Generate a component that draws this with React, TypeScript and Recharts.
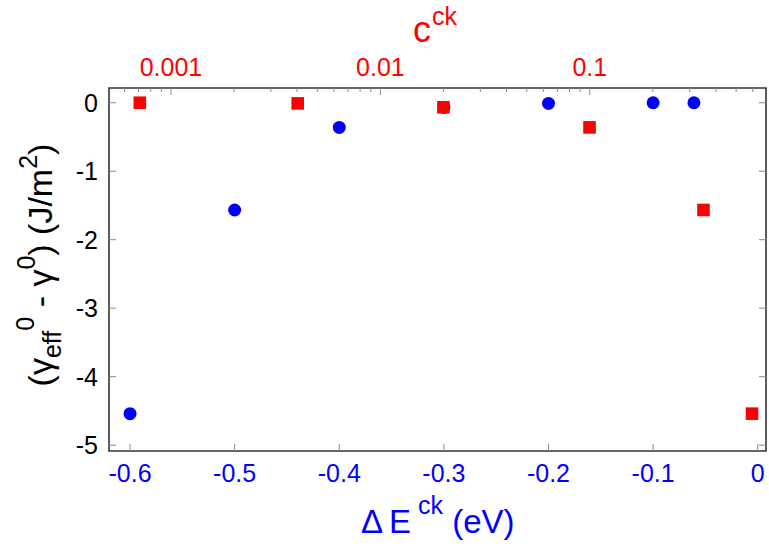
import React from 'react';
import { ScatterChart, Scatter, XAxis, YAxis, ReferenceArea } from 'recharts';

// blue circles: ΔE^ck (bottom axis) vs (γ_eff^0 - γ^0)
const DELTA_E = [-0.6, -0.5, -0.4, -0.3, -0.2, -0.1, -0.061];
const GAMMA_BLUE = [-4.54, -1.566, -0.36, -0.067, -0.01, 0, 0];

// red squares: c^ck (top log axis) vs (γ_eff^0 - γ^0)
const C_CK = [0.00071, 0.00403, 0.02, 0.0997, 0.349, 0.595];
const GAMMA_RED = [0, -0.01, -0.067, -0.36, -1.566, -4.54];

const BOTTOM_TICKS = [-0.6, -0.5, -0.4, -0.3, -0.2, -0.1, 0];
const Y_TICKS = [0, -1, -2, -3, -4, -5];
const TOP_MAJOR = [0.001, 0.01, 0.1];
const TOP_LABELS = ['0.001', '0.01', '0.1'];
const TOP_TICKS = [
  0.0006, 0.0007, 0.0008, 0.0009, 0.001,
  0.002, 0.003, 0.004, 0.005, 0.006, 0.007, 0.008, 0.009, 0.01,
  0.02, 0.03, 0.04, 0.05, 0.06, 0.07, 0.08, 0.09, 0.1,
  0.2, 0.3, 0.4, 0.5, 0.6,
];

const X_MIN = -0.6201;
const X_MAX = 0.0079;
const C_MIN = 0.000506;
const C_MAX = 0.694;
const Y_MIN = -5.085;
const Y_MAX = 0.215;

// plot frame in page pixels
const PL = 109;
const PR = 766;
const PT = 88;
const PB = 451;

const FONT = '"Liberation Sans", Arial, sans-serif';
const BLUE = '#0000ff';
const RED = '#ff0000';
const TICK_COLOR = '#8a8a8a';

const blueData = DELTA_E.map((e, i) => ({ e, g: GAMMA_BLUE[i] }));
const redData = C_CK.map((c, i) => ({ c, g: GAMMA_RED[i] }));

const BottomTick = (props: any) => {
  const { x, payload } = props;
  return (
    <g>
      <line x1={x} x2={x} y1={PB} y2={PB - 7} stroke={TICK_COLOR} strokeWidth={1} />
      <text x={x} y={482} textAnchor="middle" fontSize={25} fontFamily={FONT} fill={BLUE}>
        {payload.value}
      </text>
    </g>
  );
};

const TopTick = (props: any) => {
  const { x, payload } = props;
  const idx = TOP_MAJOR.findIndex((m) => Math.abs(m - payload.value) < 1e-9);
  const major = idx >= 0;
  return (
    <g>
      <line x1={x} x2={x} y1={PT} y2={PT + (major ? 7 : 4)} stroke={TICK_COLOR} strokeWidth={1} />
      {major && (
        <text x={x} y={76} textAnchor="middle" fontSize={25} fontFamily={FONT} fill={RED}>
          {TOP_LABELS[idx]}
        </text>
      )}
    </g>
  );
};

const LeftTick = (props: any) => {
  const { y, payload } = props;
  return (
    <g>
      <line x1={PL} x2={PL + 7} y1={y} y2={y} stroke={TICK_COLOR} strokeWidth={1} />
      <line x1={PR} x2={PR - 7} y1={y} y2={y} stroke={TICK_COLOR} strokeWidth={1} />
      <text x={98} y={y + 9} textAnchor="end" fontSize={25} fontFamily={FONT} fill="#000">
        {payload.value}
      </text>
    </g>
  );
};

const BlueDot = (props: any) => <circle cx={props.cx} cy={props.cy} r={6.5} fill={BLUE} />;
const RedSquare = (props: any) => (
  <rect x={props.cx - 6.3} y={props.cy - 6.3} width={12.6} height={12.6} fill={RED} />
);

export default function App() {
  return (
    <div style={{ position: 'absolute', left: 0, top: 0, width: 769, height: 548, background: '#fff' }}>
      <ScatterChart width={769} height={548} margin={{ top: PT - 30, right: 769 - PR, bottom: 548 - PB - 30, left: PL - 60 }}>
        <XAxis
          xAxisId="bottom"
          dataKey="e"
          type="number"
          domain={[X_MIN, X_MAX]}
          ticks={BOTTOM_TICKS}
          interval={0}
          allowDataOverflow
          height={30}
          axisLine={false}
          tickLine={false}
          tick={<BottomTick />}
        />
        <XAxis
          xAxisId="top"
          orientation="top"
          dataKey="c"
          type="number"
          scale="log"
          domain={[C_MIN, C_MAX]}
          ticks={TOP_TICKS}
          interval={0}
          allowDataOverflow
          height={30}
          axisLine={false}
          tickLine={false}
          tick={<TopTick />}
        />
        <YAxis
          yAxisId="y"
          dataKey="g"
          type="number"
          domain={[Y_MIN, Y_MAX]}
          ticks={Y_TICKS}
          interval={0}
          allowDataOverflow
          width={60}
          axisLine={false}
          tickLine={false}
          tick={<LeftTick />}
        />
        <ReferenceArea
          xAxisId="bottom"
          yAxisId="y"
          x1={X_MIN}
          x2={X_MAX}
          y1={Y_MIN}
          y2={Y_MAX}
          fill="none"
          fillOpacity={0}
          stroke="#333"
          strokeWidth={1.6}
          ifOverflow="visible"
        />
        <Scatter xAxisId="bottom" yAxisId="y" data={blueData} shape={<BlueDot />} isAnimationActive={false} />
        <Scatter xAxisId="top" yAxisId="y" data={redData} shape={<RedSquare />} isAnimationActive={false} />
      </ScatterChart>
      <svg
        width={769}
        height={548}
        style={{ position: 'absolute', left: 0, top: 0, pointerEvents: 'none' }}
        fontFamily={FONT}
      >
        <text x={413} y={42} fontSize={36} fill={RED}>
          c<tspan fontSize={25} dy={-17} dx={1}>ck</tspan>
        </text>
        <text x={361} y={533} fontSize={33} fill={BLUE}>
          Δ<tspan dx={6}>E</tspan>
          <tspan fontSize={25} dy={-19} dx={7}>ck</tspan>
          <tspan dy={19} fontSize={33}> (eV)</tspan>
        </text>
        <text transform="translate(52, 265) rotate(-90)" textAnchor="middle" fontSize={34} fill="#000">
          (γ<tspan fontSize={25} dy={9}>eff</tspan>
          <tspan fontSize={25} dy={-27}>0</tspan>
          <tspan fontSize={34} dy={18}> - γ</tspan>
          <tspan fontSize={25} dy={-17}>0</tspan>
          <tspan fontSize={34} dy={17}>) (J/m</tspan>
          <tspan fontSize={25} dy={-15}>2</tspan>
          <tspan fontSize={34} dy={15}>)</tspan>
        </text>
      </svg>
    </div>
  );
}
